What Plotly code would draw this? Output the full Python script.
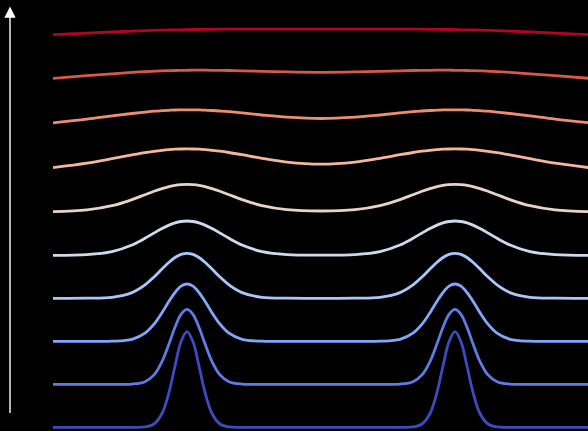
import plotly.graph_objects as go

# sample positions along the horizontal axis (two peaks at 134 and 402)
x_pos = [0, 34, 59, 79, 92, 101, 109, 116, 122, 128, 134, 140, 146, 152, 159, 167, 176, 189, 209, 234, 268,
         302, 327, 347, 360, 369, 377, 384, 390, 396, 402, 408, 414, 420, 427, 435, 444, 457, 477, 502, 536]

# vertical offset of each curve (bottom = earliest)
offsets = [0, 43, 86, 129, 172, 215.6, 259.7, 304.5, 349, 392.6]

curve_0 = [0, 0, 0, 0, 0.4, 3.3, 13.8, 35.0, 61.2, 85.5, 95.6, 85.5, 61.2, 35.0, 13.8, 3.3, 0.4, 0, 0, 0, 0,
           0, 0, 0, 0.4, 3.3, 13.8, 35.0, 61.2, 85.5, 95.6, 85.5, 61.2, 35.0, 13.8, 3.3, 0.4, 0, 0, 0, 0]
curve_1 = [0, 0, 0, 0.2, 2.6, 9.4, 22.8, 40.5, 57.0, 70.0, 75.0, 70.0, 57.0, 40.5, 22.8, 9.4, 2.6, 0.2, 0, 0, 0,
           0, 0, 0.2, 2.6, 9.4, 22.8, 40.5, 57.0, 70.0, 75.0, 70.0, 57.0, 40.5, 22.8, 9.4, 2.6, 0.2, 0, 0, 0]
curve_2 = [0, 0, 0.1, 2.0, 8.1, 17.1, 28.6, 40.0, 48.8, 55.1, 57.3, 55.1, 48.8, 40.0, 28.6, 17.1, 8.1, 2.0, 0.1, 0, 0,
           0, 0.1, 2.0, 8.1, 17.1, 28.6, 40.0, 48.8, 55.1, 57.3, 55.1, 48.8, 40.0, 28.6, 17.1, 8.1, 2.0, 0.1, 0, 0]
curve_3 = [0, 0.1, 1.0, 5.7, 13.4, 21.3, 29.3, 36.0, 40.8, 43.9, 45.0, 43.9, 40.8, 36.0, 29.3, 21.3, 13.4, 5.7, 1.0, 0.1, 0,
           0.1, 1.0, 5.7, 13.4, 21.3, 29.3, 36.0, 40.8, 43.9, 45.0, 43.9, 40.8, 36.0, 29.3, 21.3, 13.4, 5.7, 1.0, 0.1, 0]
curve_4 = [0, 0.7, 3.7, 10.3, 17.0, 22.3, 26.8, 30.2, 32.4, 33.8, 34.3, 33.8, 32.4, 30.2, 26.8, 22.3, 17.0, 10.3, 3.7, 0.7, 0.1,
           0.7, 3.7, 10.3, 17.0, 22.3, 26.8, 30.2, 32.4, 33.8, 34.3, 33.8, 32.4, 30.2, 26.8, 22.3, 17.0, 10.3, 3.7, 0.7, 0]
curve_5 = [0, 1.8, 6.0, 12.1, 17.0, 20.4, 23.1, 25.1, 26.4, 27.1, 27.4, 27.1, 26.4, 25.1, 23.1, 20.4, 17.0, 12.1, 6.1, 2.0, 0.7,
           2.0, 6.1, 12.1, 17.0, 20.4, 23.1, 25.1, 26.4, 27.1, 27.4, 27.1, 26.4, 25.1, 23.1, 20.4, 17.0, 12.1, 6.0, 1.8, 0]
curve_6 = [0, 4.4, 8.9, 12.7, 15.0, 16.3, 17.3, 18.0, 18.4, 18.6, 18.7, 18.6, 18.4, 18.0, 17.3, 16.4, 15.1, 12.9, 9.3, 5.5, 3.4,
           5.5, 9.3, 12.9, 15.1, 16.4, 17.3, 18.0, 18.4, 18.6, 18.7, 18.6, 18.4, 18.0, 17.3, 16.3, 15.0, 12.7, 8.9, 4.4, 0]
curve_7 = [0, 3.7, 6.9, 9.3, 10.7, 11.6, 12.1, 12.5, 12.8, 12.9, 13.0, 13.0, 12.9, 12.6, 12.3, 11.8, 11.1, 9.9, 7.8, 5.6, 4.3,
           5.6, 7.8, 9.9, 11.1, 11.8, 12.3, 12.6, 12.9, 13.0, 13.0, 12.9, 12.8, 12.5, 12.1, 11.6, 10.7, 9.3, 6.9, 3.7, 0]
curve_8 = [0, 2.6, 4.5, 5.9, 6.6, 7.1, 7.4, 7.6, 7.8, 7.9, 8.0, 8.1, 8.1, 8.1, 8.0, 7.9, 7.8, 7.5, 7.0, 6.4, 6.0,
           6.4, 7.0, 7.5, 7.8, 7.9, 8.0, 8.1, 8.1, 8.1, 8.0, 7.9, 7.8, 7.6, 7.4, 7.1, 6.6, 5.9, 4.5, 2.6, 0]
curve_9 = [0, 1.6, 2.7, 3.5, 4.0, 4.3, 4.5, 4.7, 4.8, 4.9, 5.1, 5.2, 5.2, 5.3, 5.4, 5.5, 5.5, 5.5, 5.6, 5.5, 5.5,
           5.5, 5.6, 5.5, 5.5, 5.5, 5.4, 5.3, 5.2, 5.2, 5.1, 4.9, 4.8, 4.7, 4.5, 4.3, 4.0, 3.5, 2.7, 1.6, 0]

colors = ["#3b4cc0", "#5d7ce6", "#82a6fb", "#aac7fd", "#cdd9ec",
          "#e9d3c6", "#f5b69c", "#f08d70", "#d95848", "#b40426"]

curves = [curve_0, curve_1, curve_2, curve_3, curve_4,
          curve_5, curve_6, curve_7, curve_8, curve_9]

fig = go.Figure()
for off, vals, col in zip(offsets, curves, colors):
    fig.add_trace(go.Scatter(
        x=x_pos,
        y=[off + v for v in vals],
        mode="lines",
        line=dict(color=col, width=2.8, shape="spline", smoothing=1),
        hoverinfo="skip",
        showlegend=False,
    ))

fig.add_annotation(
    xref="paper", yref="paper",
    x=-43 / 535, y=(431 - 6.5) / 431,
    ax=0, ay=408, axref="pixel", ayref="pixel",
    showarrow=True, arrowhead=2, arrowsize=1.6, arrowwidth=1.4,
    arrowcolor="white", text="", standoff=0,
)

fig.update_layout(
    width=588, height=431,
    margin=dict(l=53, r=0, t=0, b=0),
    paper_bgcolor="black", plot_bgcolor="black",
    xaxis=dict(range=[0, 535], visible=False, fixedrange=True),
    yaxis=dict(range=[-3.7, 427.3], visible=False, fixedrange=True),
    showlegend=False,
)

fig.write_html(
    "out.html",
    config={"displayModeBar": False},
    post_script="document.body.style.margin='0';document.body.style.background='black';document.body.style.overflow='hidden';",
)
